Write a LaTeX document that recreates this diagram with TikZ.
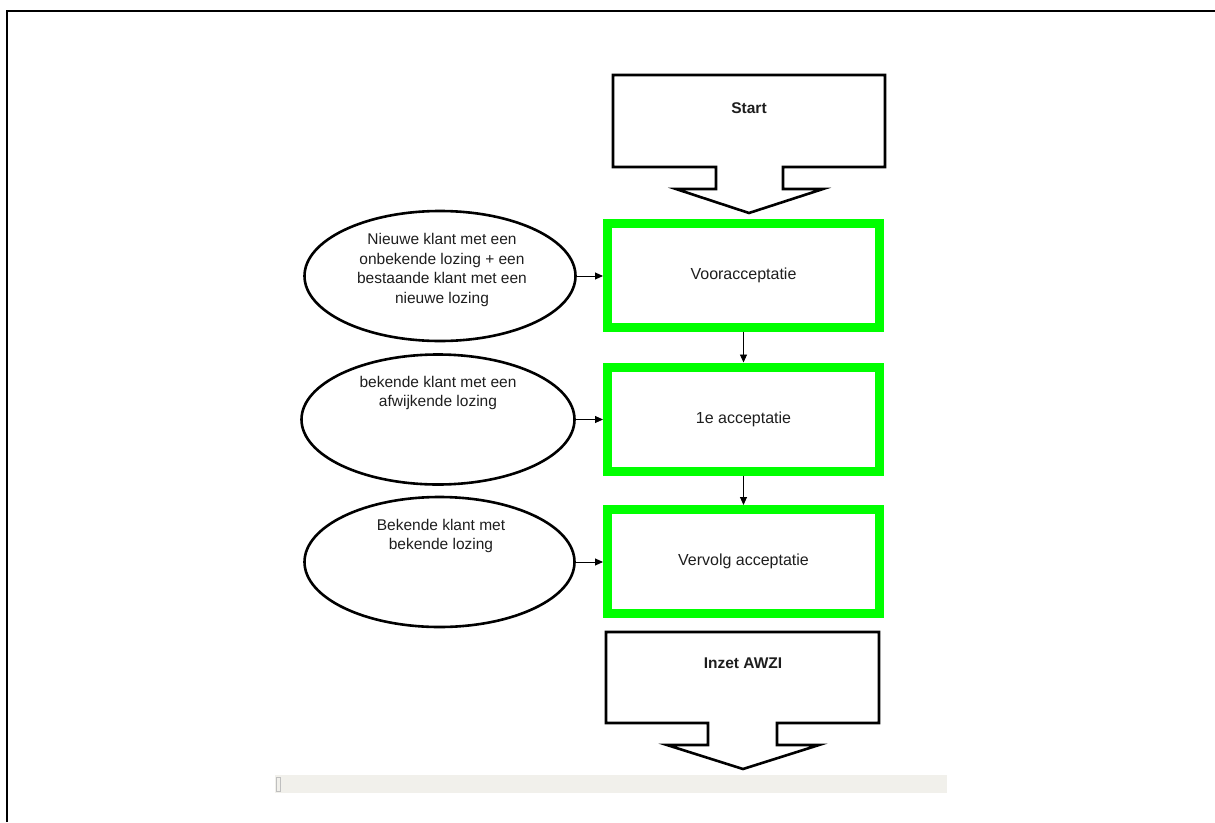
\documentclass[tikz,border=0pt]{standalone}
\usepackage{fontspec}
\setmainfont{Liberation Sans}
\usetikzlibrary{shapes.geometric,arrows.meta}
\definecolor{vgreen}{RGB}{0,255,0}
\definecolor{txt}{RGB}{30,30,30}
\definecolor{barfill}{RGB}{241,240,235}
\tikzset{
  greenbox/.style={draw=vgreen,line width=9pt,minimum width=272pt,minimum height=104pt,inner sep=0pt,text=txt,font=\fontsize{16}{19}\selectfont},
  srcell/.style={draw=black,line width=2.6pt,ellipse,inner sep=0pt},
  elltext/.style={align=center,text=txt,font=\fontsize{15.5}{19.5}\selectfont,inner sep=0pt},
  blockarrow/.style={draw=black,line width=2.6pt,line join=miter,fill=white},
  boldlabel/.style={font=\bfseries\fontsize{15.5}{19}\selectfont,text=txt,inner sep=0pt},
  conn/.style={draw=black,line width=0.9pt,-{Triangle[length=8pt,width=7pt]}}
}
\begin{document}
\begin{tikzpicture}[x=1pt,y=-1pt]
\useasboundingbox (0,0) rectangle (1215,822);
% page border
\draw[line width=1.4pt] (7,822) -- (7,11) -- (1215,11);
% Start block arrow
\draw[blockarrow] (613,75) -- (885,75) -- (885,167) -- (783,167) -- (783,189) -- (823,189) -- (749,213) -- (676,189) -- (716,189) -- (716,167) -- (613,167) -- cycle;
\node[boldlabel] (start) at (749,108) {Start};
% Green boxes
\node[greenbox] (voor) at (743.5,275) {Vooracceptatie};
\node[greenbox] (eerste) at (743.5,419) {1e acceptatie};
\node[greenbox] (vervolg) at (743.5,561.5) {Vervolg acceptatie};
% Ellipses
\node[srcell,minimum width=271pt,minimum height=130pt] (e1) at (440,276) {};
\node[srcell,minimum width=273pt,minimum height=130pt] (e2) at (438,419.5) {};
\node[srcell,minimum width=270pt,minimum height=130pt] (e3) at (439.5,562) {};
\node[elltext] (t1) at (442,270) {Nieuwe klant met een\\onbekende lozing + een\\bestaande klant met een\\nieuwe lozing};
\node[elltext] (t2) at (438,393) {bekende klant met een\\afwijkende lozing};
\node[elltext] (t3) at (441,536) {Bekende klant met\\bekende lozing};
% Inzet AWZI block arrow
\draw[blockarrow] (606,632) -- (879,632) -- (879,723) -- (777,723) -- (777,745) -- (819,745) -- (743,769) -- (667,745) -- (708,745) -- (708,723) -- (606,723) -- cycle;
\node[boldlabel] (inzet) at (743,663) {Inzet AWZI};
% connectors
\draw[conn] (e1.east) -- (voor.west |- e1.east);
\draw[conn] (e2.east) -- (eerste.west |- e2.east);
\draw[conn] (e3.east) -- (vervolg.west |- e3.east);
\draw[conn] (voor.south) -- (eerste.north);
\draw[conn] (eerste.south) -- (vervolg.north);
% bottom bar
\fill[barfill] (275,775) rectangle (947,793);
\draw[black!25,line width=0.6pt] (276,777) rectangle (280,791);
\end{tikzpicture}
\end{document}
